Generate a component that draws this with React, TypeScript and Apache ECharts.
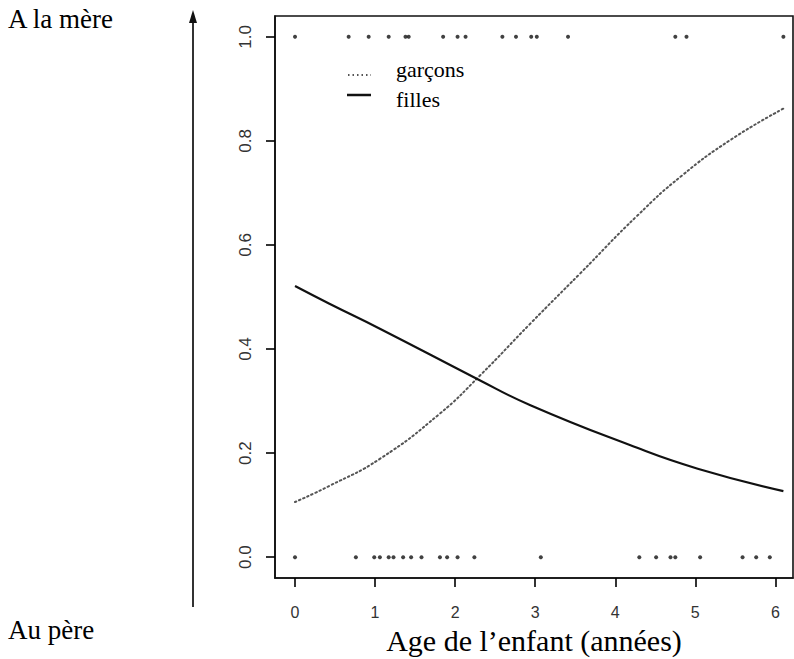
import React, { useEffect, useRef } from "react";
import * as echarts from "echarts";

const xTicks = [0, 1, 2, 3, 4, 5, 6];
const yTicks = [0, 0.2, 0.4, 0.6, 0.8, 1.0];

const seriesNames = ["garçons", "filles"];

// logistic curves: [age, probability]
const garconsCurve: [number, number][] = [
  [0, 0.106], [0.43, 0.137], [1.06, 0.189], [1.81, 0.276], [2.31, 0.349],
  [2.94, 0.449], [3.56, 0.545], [4.28, 0.657], [4.83, 0.733], [5.45, 0.803], [6.1, 0.862],
];
const fillesCurve: [number, number][] = [
  [0, 0.521], [0.43, 0.487], [1.06, 0.439], [2.27, 0.343], [2.94, 0.292],
  [4.19, 0.215], [5.03, 0.17], [6.1, 0.127],
];

// observations (rug) : 1 = à la mère, 0 = au père
const rugTopX = [0, 0.67, 0.92, 1.17, 1.38, 1.42, 1.85, 2.03, 2.13, 2.59, 2.76, 2.95, 3.02, 3.41, 4.75, 4.89, 6.1];
const rugBottomX = [0, 0.76, 0.99, 1.06, 1.17, 1.23, 1.35, 1.45, 1.58, 1.81, 1.9, 2.03, 2.24, 3.07, 4.3, 4.51, 4.69, 4.75, 5.06, 5.59, 5.76, 5.93];

const SERIF = "'Liberation Serif', 'Times New Roman', serif";
const SANS = "'Liberation Sans', Arial, Helvetica, sans-serif";

export default function App() {
  const ref = useRef<HTMLDivElement>(null);
  useEffect(() => {
    document.body.style.margin = "0";
    const chart = echarts.init(ref.current!, null, { renderer: "svg" });
    chart.setOption({
      animation: false,
      textStyle: { fontFamily: SANS },
      grid: {
        left: 275, top: 16, width: 518, height: 562,
        show: true, borderColor: "#111", borderWidth: 1.6, backgroundColor: "transparent",
      },
      xAxis: {
        type: "value", min: -0.25, max: 6.22,
        splitLine: { show: false },
        axisLine: { show: true, onZero: false, lineStyle: { color: "#111", width: 1.6 } },
        axisTick: { show: true, inside: false, customValues: xTicks, length: 9, lineStyle: { color: "#000", width: 1.6 } },
        axisLabel: { customValues: xTicks, margin: 26, fontSize: 16, color: "#333", fontFamily: SANS },
      },
      yAxis: {
        type: "value", min: -0.04, max: 1.04,
        splitLine: { show: false },
        axisLine: { show: true, onZero: false, lineStyle: { color: "#111", width: 1.6 } },
        axisTick: { show: true, inside: false, customValues: yTicks, length: 9, lineStyle: { color: "#000", width: 1.6 } },
        axisLabel: {
          customValues: yTicks, rotate: 90, margin: 21, fontSize: 17, color: "#333", fontFamily: SANS,
          formatter: (v: number) => v.toFixed(1),
        },
      },
      series: [
        {
          name: seriesNames[0], type: "line", data: garconsCurve, smooth: 0.5, showSymbol: false,
          lineStyle: { color: "#555", width: 2, type: [1.5, 3], cap: "round" },
        },
        {
          name: seriesNames[1], type: "line", data: fillesCurve, smooth: 0.5, showSymbol: false,
          lineStyle: { color: "#111", width: 2.2 },
        },
        { type: "scatter", data: rugTopX.map((x) => [x, 1]), symbolSize: 4, itemStyle: { color: "#111" } },
        { type: "scatter", data: rugBottomX.map((x) => [x, 0]), symbolSize: 4, itemStyle: { color: "#111" } },
      ],
      graphic: [
        { type: "text", x: 8, y: 19, style: { text: "A la mère", fontSize: 27, fontFamily: SERIF, fill: "#000", align: "left", verticalAlign: "middle" } },
        { type: "text", x: 8, y: 630, style: { text: "Au père", fontSize: 27, fontFamily: SERIF, fill: "#000", align: "left", verticalAlign: "middle" } },
        { type: "line", shape: { x1: 193, y1: 607, x2: 193, y2: 20 }, style: { stroke: "#333", lineWidth: 2 } },
        { type: "polygon", shape: { points: [[189, 23], [197, 23], [193, 10]] }, style: { fill: "#111" } },
        { type: "line", shape: { x1: 348, y1: 75, x2: 371, y2: 75 }, style: { stroke: "#555", lineWidth: 2, lineDash: [1.5, 3] } },
        { type: "line", shape: { x1: 347, y1: 95, x2: 371, y2: 95 }, style: { stroke: "#111", lineWidth: 2.5 } },
        { type: "text", x: 396, y: 69, style: { text: seriesNames[0], fontSize: 22, fontFamily: SERIF, fill: "#000", align: "left", verticalAlign: "middle" } },
        { type: "text", x: 396, y: 99, style: { text: seriesNames[1], fontSize: 22, fontFamily: SERIF, fill: "#000", align: "left", verticalAlign: "middle" } },
        { type: "text", x: 534, y: 640, style: { text: "Age de l’enfant (années)", fontSize: 30, fontFamily: SERIF, fill: "#000", align: "center", verticalAlign: "middle" } },
      ],
    });
    return () => chart.dispose();
  }, []);
  return <div ref={ref} style={{ width: 794, height: 659 }} />;
}
